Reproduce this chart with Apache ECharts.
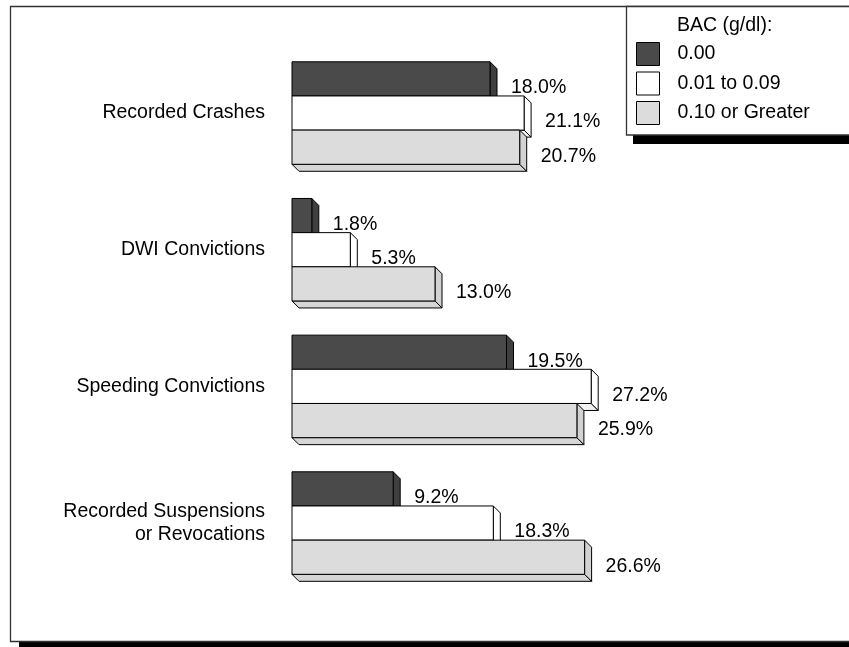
<!DOCTYPE html>
<html>
<head>
<meta charset="utf-8">
<script src="https://cdn.jsdelivr.net/npm/echarts@6/dist/echarts.min.js"></script>
<style>
html,body{margin:0;padding:0;background:#fff;}
#chart{width:849px;height:647px;}
</style>
</head>
<body>
<div id="chart"></div>
<script>
var categories = ['Recorded Crashes', 'DWI Convictions', 'Speeding Convictions', 'Recorded Suspensions\nor Revocations'];
var seriesNames = ['0.00', '0.01 to 0.09', '0.10 or Greater'];
var bac000 = [18.0, 1.8, 19.5, 9.2];
var bac001to009 = [21.1, 5.3, 27.2, 18.3];
var bac010plus = [20.7, 13.0, 25.9, 26.6];
var legendTitle = 'BAC (g/dl):';

var FONT = "'Liberation Sans', Arial, sans-serif";
var FS = 19.5;
var DEPTH = 7;
var faces = [
  {front: '#4a4a4a', side: '#3f3f3f', bottom: '#555555'},
  {front: '#ffffff', side: '#ffffff', bottom: '#f2f2f2'},
  {front: '#dcdcdc', side: '#d2d2d2', bottom: '#d6d6d6'}
];

function makeRender(idx) {
  return function (params, api) {
    var cat = api.value(0);
    var val = api.value(1);
    var base = api.coord([0, cat]);
    var end = api.coord([val, cat]);
    var band = api.size([0, 1])[1];
    var h = band * 0.75 / 3;
    var top = base[1] - 1.5 * h + idx * h;
    var bot = top + h;
    var x0 = base[0], x1 = end[0], d = DEPTH;
    var f = faces[idx];
    var ls = {stroke: '#000', lineWidth: 1};
    return {
      type: 'group',
      children: [
        {type: 'polygon', shape: {points: [[x0, bot], [x1, bot], [x1 + d, bot + d], [x0 + d, bot + d]]},
         style: Object.assign({fill: f.bottom}, ls)},
        {type: 'polygon', shape: {points: [[x1, top], [x1 + d, top + d], [x1 + d, bot + d], [x1, bot]]},
         style: Object.assign({fill: f.side}, ls)},
        {type: 'rect', shape: {x: x0, y: top, width: x1 - x0, height: h},
         style: Object.assign({fill: f.front}, ls)},
        {type: 'text', x: x1 + d + 14, y: top + h / 2 + 9,
         style: {text: val.toFixed(1) + '%', fill: '#000', font: FS + 'px ' + FONT, align: 'left', verticalAlign: 'middle'}}
      ]
    };
  };
}

var allValues = [bac000, bac001to009, bac010plus];
var series = allValues.map(function (vals, i) {
  return {
    name: seriesNames[i],
    type: 'custom',
    renderItem: makeRender(i),
    itemStyle: {color: faces[i].front},
    encode: {x: 1, y: 0},
    data: vals.map(function (v, j) { return [j, v]; }),
    clip: false,
    z: 3 + i
  };
});

var chart = echarts.init(document.getElementById('chart'));
chart.setOption({
  animation: false,
  backgroundColor: '#ffffff',
  textStyle: {fontFamily: FONT},
  graphic: [
    {type: 'rect', z: -10, shape: {x: 19, y: 15, width: 900, height: 640}, style: {fill: '#000'}},
    {type: 'rect', z: -9, shape: {x: 10.5, y: 6.5, width: 900, height: 635}, style: {fill: '#fff', stroke: '#333', lineWidth: 1.3}},
    {type: 'rect', z: -8, shape: {x: 633, y: 14, width: 300, height: 130}, style: {fill: '#000'}},
    {type: 'rect', z: -7, shape: {x: 626.5, y: 6.5, width: 300, height: 128.5}, style: {fill: '#fff', stroke: '#333', lineWidth: 1.3}}
  ],
  title: {
    text: legendTitle,
    left: 677, top: 16, padding: 0,
    textStyle: {fontSize: FS, fontWeight: 'normal', color: '#000', fontFamily: FONT}
  },
  legend: {
    orient: 'vertical',
    left: 636, top: 42, padding: 0,
    itemWidth: 23, itemHeight: 23, itemGap: 5.5,
    icon: 'rect',
    itemStyle: {borderColor: '#000', borderWidth: 1},
    textStyle: {fontSize: FS, color: '#000', fontFamily: FONT, lineHeight: 23, padding: [0, 0, 0, 13]},
    data: seriesNames,
    selectedMode: false
  },
  grid: {left: 292, top: 44.7, height: 546.7, width: 440, containLabel: false},
  xAxis: {
    type: 'value', min: 0, max: 40,
    show: false
  },
  yAxis: {
    type: 'category', inverse: true, data: categories,
    axisLine: {show: false}, axisTick: {show: false}, splitLine: {show: false},
    axisLabel: {margin: 27, fontSize: FS, color: '#000', fontFamily: FONT, lineHeight: 23, align: 'right'}
  },
  series: series
});
</script>
</body>
</html>
